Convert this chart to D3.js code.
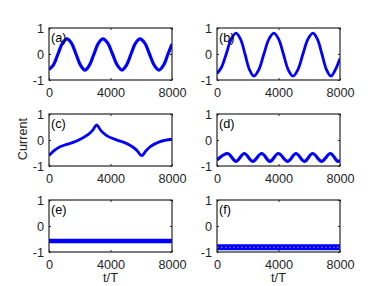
<!DOCTYPE html>
<meta charset="utf-8">
<style>
body { margin: 0; background: #fff; }
svg { display: block; font-family: 'Liberation Sans', Arial, sans-serif; }
.tick text { font-size: 12.7px; fill: #262626; }
.tick line { stroke: #262626; }
</style>
<body>
<svg id="chart"></svg>
<script src="https://d3js.org/d3.v7.min.js"></script>
<script>
var xTicks = [0, 4000, 8000];
var yTicks = [-1, 0, 1];
var panelNames = ["(a)", "(b)", "(c)", "(d)", "(e)", "(f)"];

// (a)
var tA = [0, 290, 585, 880, 1170, 1460, 1755, 2050, 2340, 2630, 2925, 3220, 3510, 3820, 4130, 4440, 4750, 5040, 5335, 5630, 5920, 6230, 6535, 6840, 7150, 7450, 7740, 8000];
var vA = [-0.6, -0.42, 0, 0.42, 0.58, 0.42, 0, -0.43, -0.62, -0.43, 0, 0.42, 0.58, 0.42, 0, -0.43, -0.62, -0.43, 0, 0.42, 0.58, 0.42, 0, -0.43, -0.62, -0.43, 0, 0.38];
// (b)
var tB = [0, 300, 600, 920, 1236, 1530, 1820, 2110, 2400, 2725, 3050, 3375, 3700, 4010, 4320, 4630, 4940, 5265, 5590, 5915, 6240, 6530, 6825, 7120, 7410, 7700, 8000];
var vB = [-0.75, -0.5, 0, 0.57, 0.8, 0.57, 0, -0.6, -0.85, -0.6, 0, 0.57, 0.8, 0.57, 0, -0.6, -0.85, -0.6, 0, 0.57, 0.8, 0.57, 0, -0.6, -0.85, -0.6, -0.17];
// (c)
var tC = [0, 350, 715, 1150, 1580, 2000, 2557, 2850, 3000, 3100, 3200, 3380, 3750, 4400, 5000, 5400, 5750, 5930, 6030, 6130, 6300, 6570, 7220, 8000];
var vC = [-0.6, -0.4, -0.26, -0.17, -0.09, 0.02, 0.22, 0.38, 0.52, 0.58, 0.52, 0.36, 0.17, 0.0, -0.12, -0.25, -0.42, -0.56, -0.6, -0.56, -0.42, -0.26, -0.06, 0.03];
// (d)
var tD = [0, 696, 1236, 1777, 2320, 2906, 3447, 3987, 4600, 5138, 5680, 6222, 6810, 7372, 7850, 8000];
var vD = [-0.77, -0.52, -0.82, -0.52, -0.82, -0.52, -0.82, -0.52, -0.82, -0.52, -0.82, -0.52, -0.82, -0.52, -0.82, -0.78];
// (e)
var tE = [0, 8000];
var vE = [-0.58, -0.58];
// (f)
var tF = [0, 8000];
var vF = [-0.82, -0.82];

var series = [[tA, vA], [tB, vB], [tC, vC], [tD, vD], [tE, vE], [tF, vF]];
var strokeW = [3.2, 2.8, 2.8, 3.2, 4.5, 6];

var W = 382, H = 286;
var colX = [49, 217], rowY = [28, 114, 200];
var w = 123, h = 52;

var svg = d3.select("#chart").attr("width", W).attr("height", H);

var x = d3.scaleLinear().domain([0, 8000]).range([0, w]);
var y = d3.scaleLinear().domain([-1, 1]).range([h, 0]);

var line = d3.line()
    .x(function(d) { return x(d[0]); })
    .y(function(d) { return y(d[1]); })
    .curve(d3.curveCatmullRom.alpha(0.5));

var fmt = function(d) { return String(d); };

series.forEach(function(s, i) {
  var g = svg.append("g")
      .attr("transform", "translate(" + colX[i % 2] + "," + rowY[Math.floor(i / 2)] + ")");

  g.append("clipPath").attr("id", "clip" + i)
    .append("rect").attr("width", w).attr("height", h);

  var pts = s[0].map(function(t, k) { return [t, s[1][k]]; });

  g.append("path")
      .datum(pts)
      .attr("clip-path", "url(#clip" + i + ")")
      .attr("fill", "none")
      .attr("stroke", "#0000ff")
      .attr("stroke-width", strokeW[i])
      .attr("d", line);

  if (i == 5) {
    g.append("path")
        .datum(pts)
        .attr("fill", "none")
        .attr("stroke", "#ffffff")
        .attr("stroke-width", 0.8)
        .attr("stroke-dasharray", "1.5,2.5")
        .attr("opacity", 0.7)
        .attr("d", line);
  }

  // ticks, inside, on all four sides
  g.append("g").attr("transform", "translate(0," + h + ")")
      .call(d3.axisBottom(x).tickValues(xTicks).tickSize(-2).tickPadding(8).tickFormat(fmt))
      .call(function(a) { a.select(".domain").remove(); });
  g.append("g")
      .call(d3.axisTop(x).tickValues(xTicks).tickSize(-2).tickFormat(""))
      .call(function(a) { a.select(".domain").remove(); });
  g.append("g")
      .call(d3.axisLeft(y).tickValues(yTicks).tickSize(-2).tickPadding(5).tickFormat(fmt))
      .call(function(a) { a.select(".domain").remove(); });
  g.append("g").attr("transform", "translate(" + w + ",0)")
      .call(d3.axisRight(y).tickValues(yTicks).tickSize(-2).tickFormat(""))
      .call(function(a) { a.select(".domain").remove(); });

  g.selectAll(".tick text").attr("font-family", null).attr("font-size", null);

  g.append("rect")
      .attr("width", w).attr("height", h)
      .attr("fill", "none")
      .attr("stroke", "#262626")
      .attr("stroke-width", 1.2);

  g.append("text")
      .attr("x", 2).attr("y", 14)
      .attr("font-size", "12.7px")
      .attr("fill", "#000")
      .text(panelNames[i]);
});

svg.append("text")
    .attr("transform", "translate(27,139) rotate(-90)")
    .attr("text-anchor", "middle")
    .attr("font-size", "12.7px")
    .attr("fill", "#262626")
    .text("Current");

colX.forEach(function(cx) {
  svg.append("text")
      .attr("x", cx + w / 2).attr("y", 282)
      .attr("text-anchor", "middle")
      .attr("font-size", "12.7px")
      .attr("fill", "#262626")
      .text("t/T");
});
</script>
</body>
